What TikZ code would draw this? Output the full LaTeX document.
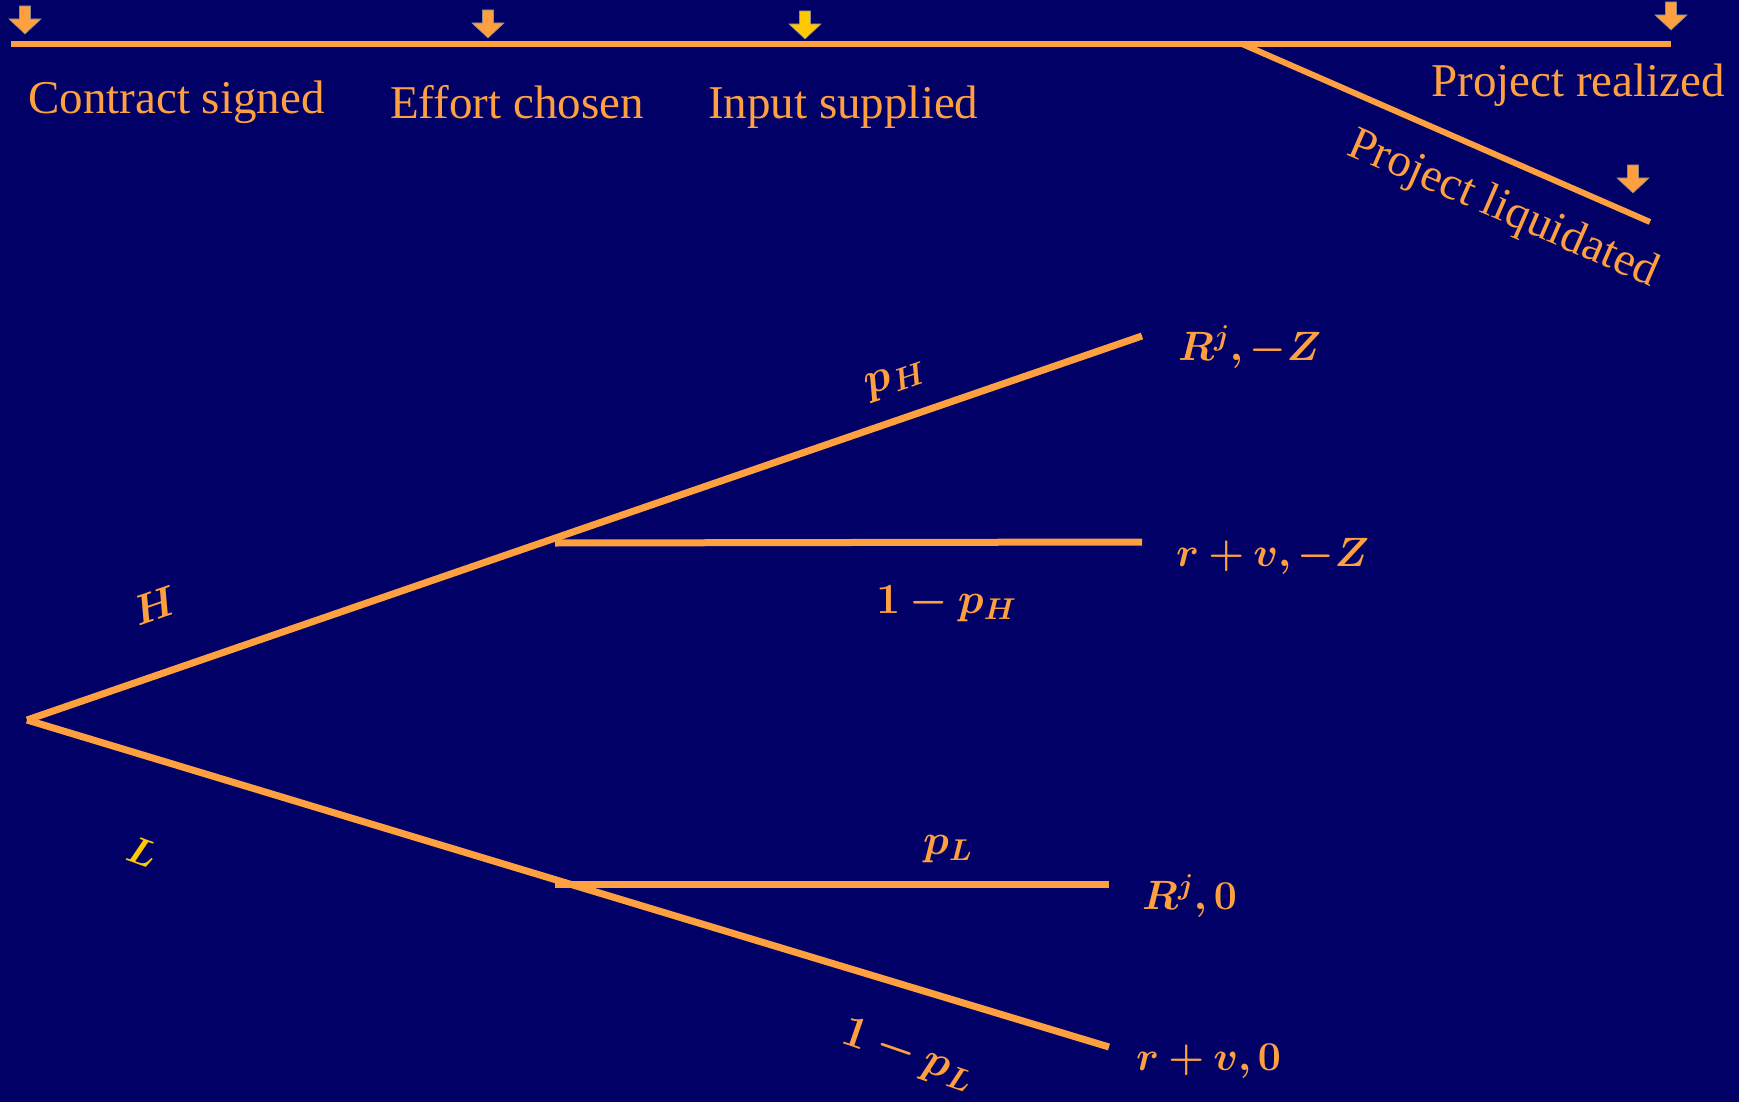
\RequirePackage{fix-cm}
\documentclass[tikz,border=0pt]{standalone}
\usepackage{amsmath,bm}
\usepackage{fontspec}
\setmainfont{Liberation Serif}
\definecolor{bg}{RGB}{0,0,102}
\definecolor{org}{RGB}{255,160,64}
\definecolor{gold}{RGB}{255,200,0}
\tikzset{
  lbl/.style={text=org, font=\fontsize{47}{56}\selectfont, inner sep=0pt, anchor=base west},
  mlbl/.style={text=org, font=\fontsize{41}{49}\selectfont, inner sep=0pt, anchor=base west},
  branch/.style={draw=org, line width=7pt},
  timeline/.style={draw=org, line width=6pt},
  evarrow/.pic={\path[pic actions, draw=black!45, line width=0.6pt]
     (-5.5,0) -- (5.5,0) -- (5.5,13) -- (16,13) -- (0,28) -- (-16,13) -- (-5.5,13) -- cycle;}
}
\begin{document}
\begin{tikzpicture}[x=1pt,y=-1pt]
\fill[bg] (0,0) rectangle (1739,1102);
\useasboundingbox (0,0) rectangle (1739,1102);
% timeline
\coordinate (t0) at (11,44);
\coordinate (tb) at (1242,44);
\coordinate (t1) at (1671,44);
\coordinate (tl) at (1650,222);
\draw[timeline] (t0) -- (t1);
\draw[timeline] (tb) -- (tl);
\pic[fill=org] (a1) at (25,6) {evarrow};
\pic[fill=org] (a2) at (488,10) {evarrow};
\pic[fill=gold] (a3) at (805,11) {evarrow};
\pic[fill=org] (a4) at (1671,2) {evarrow};
\pic[fill=org] (a5) at (1633,165) {evarrow};
\node[lbl] (cs) at (28,114) {Contract signed};
\node[lbl] (ec) at (390,119) {Effort chosen};
\node[lbl] (is) at (708,119) {Input supplied};
\node[lbl] (pr) at (1431,97) {Project realized};
\node[lbl, anchor=center, rotate=-23.5] (pl) at (1503,210) {Project liquidated};
% tree
\coordinate (root) at (27,720);
\coordinate (hb) at (555,543);
\coordinate (hU) at (1142,336);
\coordinate (hM) at (1142,542);
\coordinate (lb) at (555,884);
\coordinate (lM) at (1109,884);
\coordinate (lD) at (1109,1047);
\draw[branch] (root) -- (hU);
\draw[branch] (hb) -- (hM);
\draw[branch] (root) -- (lD);
\draw[branch] (lb) -- (lM);
\node[mlbl] (e1) at (1178,360) {$\bm{R^{j}, -Z}$};
\node[mlbl] (e2) at (1176,566) {$\bm{r+v,-Z}$};
\node[mlbl] (e3) at (1142,909) {$\bm{R^{j},0}$};
\node[mlbl] (e4) at (1136,1070) {$\bm{r+v,0}$};
\node[mlbl, font=\fontsize{43}{50}\selectfont] (q2) at (876,613) {$\bm{1-p_H}$};
\node[mlbl, font=\fontsize{43}{50}\selectfont] (q3) at (923,854) {$\bm{p_L}$};
\node[mlbl, anchor=center, rotate=19, font=\fontsize{45}{52}\selectfont] (q1) at (896,380) {$\bm{p_H}$};
\node[mlbl, anchor=center, rotate=-19, font=\fontsize{45}{52}\selectfont] (q4) at (908,1055) {$\bm{1-p_L}$};
\node[mlbl, anchor=center, rotate=19, font=\fontsize{42}{50}\selectfont] (lh) at (155,606) {$\bm{H}$};
\node[mlbl, text=gold, anchor=center, rotate=-20, font=\fontsize{38}{44}\selectfont] (ll) at (142,852) {$\bm{L}$};
\end{tikzpicture}
\end{document}
